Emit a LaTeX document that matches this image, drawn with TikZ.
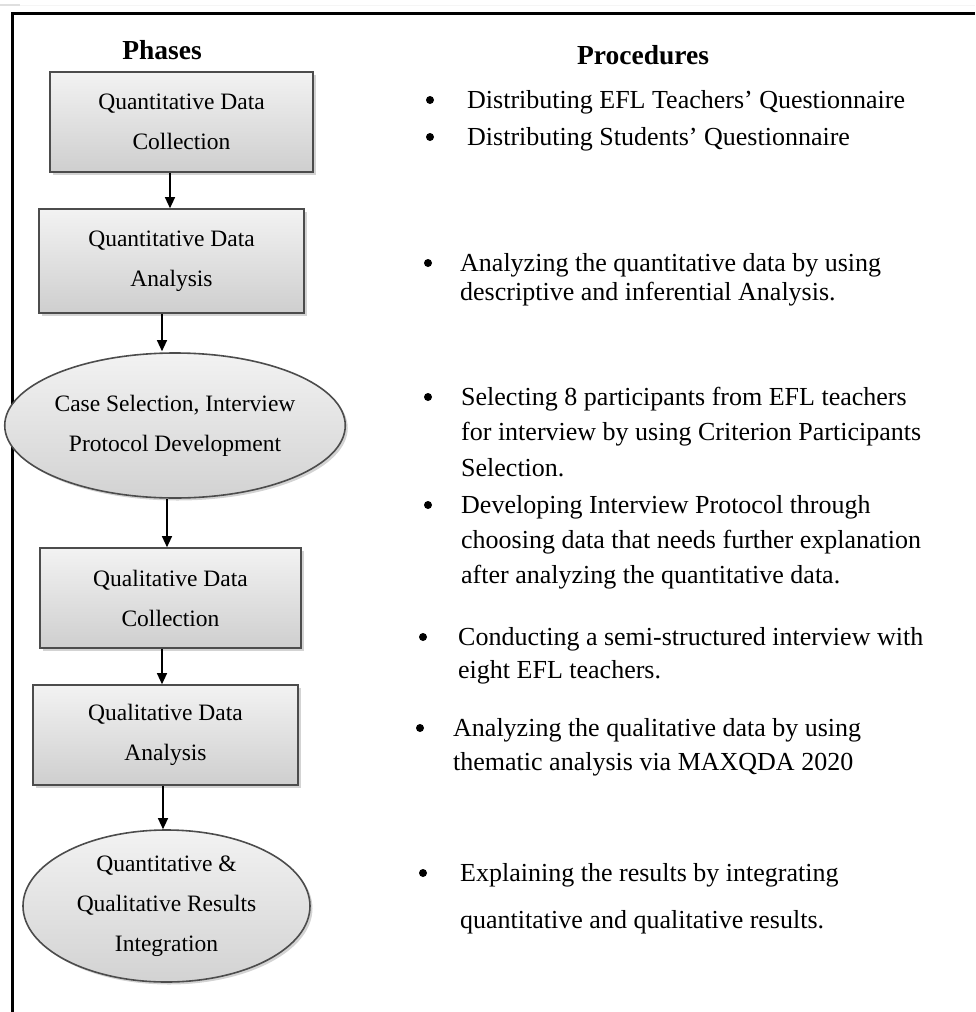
\documentclass[tikz,border=0pt]{standalone}
\usepackage{fontspec}
\setmainfont{Liberation Serif}
\usetikzlibrary{shapes.geometric,shadows,arrows.meta}
\tikzset{
  phasebox/.style={rectangle,draw=black!70,line width=1.6pt,top color=gray!10,bottom color=gray!38,
    drop shadow={shadow xshift=2.5pt,shadow yshift=-2.5pt,opacity=0.35},
    align=center,inner sep=0pt,font=\fontsize{23.5}{40}\selectfont},
  phaseell/.style={ellipse,draw=black!70,line width=1.6pt,top color=gray!10,bottom color=gray!35,
    drop shadow={shadow xshift=2.5pt,shadow yshift=-2.5pt,opacity=0.35},
    align=center,inner sep=0pt,font=\fontsize{23.5}{40}\selectfont},
  arr/.style={line width=1.2pt,-{Triangle[length=11pt,width=10pt]}},
  heading/.style={font=\fontsize{27.5}{32}\bfseries\selectfont,inner sep=0pt},
  bul/.style={circle,fill=black,inner sep=0pt,minimum size=8pt},
  proc/.style={anchor=base west,inner sep=0pt},
  frame/.style={line width=3.2pt,black}
}
\begin{document}
\begin{tikzpicture}[x=1pt,y=-1pt]
\useasboundingbox (0,0) rectangle (975,1012);
% outer frame
\draw[gray!25,line width=1.2pt] (0,5) -- (20,5);
\draw[gray!8,line width=1pt] (20,5) -- (975,5);
\draw[frame] (975,13.5) -- (12.5,13.5) -- (12.5,1012);
% headings
\node[heading] (hph) at (162,50) {Phases};
\node[heading] (hpr) at (643,55) {Procedures};
% phases
\node[phasebox,minimum width=263pt,minimum height=100pt] (b1) at (181.5,122) {Quantitative Data\\Collection};
\node[phasebox,minimum width=265pt,minimum height=104pt] (b2) at (171.5,261) {Quantitative Data\\Analysis};
\node[phaseell,minimum width=310pt,minimum height=145pt] (e1) at (175,425.5) {Case Selection, Interview\\Protocol Development};
\node[phasebox,minimum width=261pt,minimum height=100pt] (b3) at (170.5,598) {Qualitative Data\\Collection};
\node[phasebox,minimum width=265pt,minimum height=100pt] (b4) at (165.5,735) {Qualitative Data\\Analysis};
\node[phaseell,minimum width=287pt,minimum height=152pt] (e2) at (166.5,906) {Quantitative \&\\Qualitative Results\\Integration};
% arrows
\draw[arr] ([xshift=-11.5pt]b1.south) -- ([xshift=-1.5pt]b2.north);
\draw[arr] ([xshift=-9.5pt]b2.south) -- ([xshift=-13pt,yshift=1pt]e1.north);
\draw[arr] ([xshift=-8pt]e1.south) -- ([xshift=-3.5pt]b3.north);
\draw[arr] ([xshift=-8.5pt]b3.south) -- ([xshift=-3.5pt]b4.north);
\draw[arr] ([xshift=-2.5pt]b4.south) -- ([xshift=-3.5pt]e2.north);
% procedures
\node[bul] (u1) at (430,100) {};
\node[proc,font=\fontsize{26}{37}\selectfont] (p1) at (467,108) {Distributing EFL Teachers’ Questionnaire};
\node[bul] (u2) at (430,137) {};
\node[proc,font=\fontsize{26}{37}\selectfont] (p2) at (467,145) {Distributing Students’ Questionnaire};
\node[bul] (u3) at (428,263) {};
\node[proc,font=\fontsize{26}{29}\selectfont] (p3) at (460,271) {\vtop{\hbox{Analyzing the quantitative data by using}\hbox{descriptive and inferential Analysis.}}};
\node[bul] (u4) at (428,397) {};
\node[proc,font=\fontsize{26}{35.5}\selectfont] (p4) at (461,405) {\vtop{\hbox{Selecting 8 participants from EFL teachers}\hbox{for interview by using Criterion Participants}\hbox{Selection.}}};
\node[bul] (u5) at (428,505) {};
\node[proc,font=\fontsize{26}{35}\selectfont] (p5) at (461,513) {\vtop{\hbox{Developing Interview Protocol through}\hbox{choosing data that needs further explanation}\hbox{after analyzing the quantitative data.}}};
\node[bul] (u6) at (423,637) {};
\node[proc,font=\fontsize{26}{33}\selectfont] (p6) at (458,645) {\vtop{\hbox{Conducting a semi-structured interview with}\hbox{eight EFL teachers.}}};
\node[bul] (u7) at (420,728) {};
\node[proc,font=\fontsize{26}{34}\selectfont] (p7) at (453,736) {\vtop{\hbox{Analyzing the qualitative data by using}\hbox{thematic analysis via MAXQDA 2020}}};
\node[bul] (u8) at (423,873) {};
\node[proc,font=\fontsize{26}{47}\selectfont] (p8) at (460,881) {\vtop{\hbox{Explaining the results by integrating}\hbox{quantitative and qualitative results.}}};
\end{tikzpicture}
\end{document}
